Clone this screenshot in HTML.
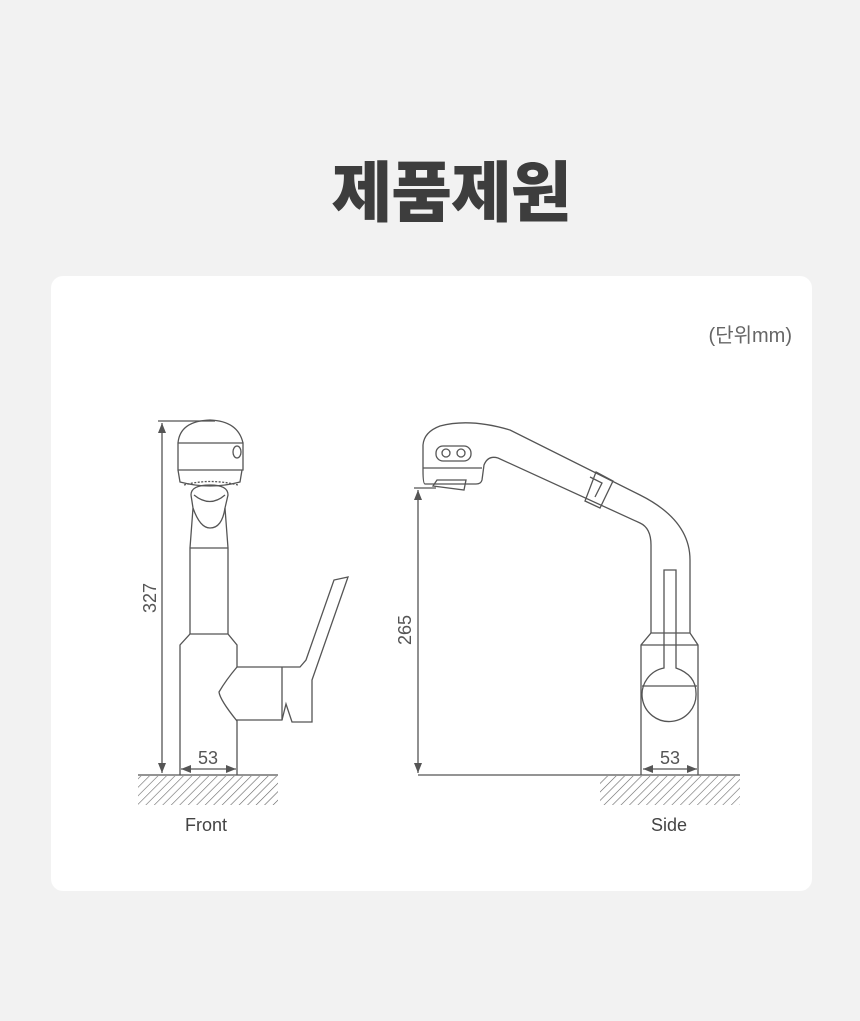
<!DOCTYPE html>
<html><head><meta charset="utf-8"><style>
html,body{margin:0;padding:0;background:#f2f2f2;}
body{width:860px;height:1021px;position:relative;overflow:hidden;font-family:"Liberation Sans","Noto Sans CJK KR",sans-serif;}
.t{position:absolute;left:21px;width:860px;top:140px;text-align:center;font-size:66px;font-weight:900;color:#3d3d3d;letter-spacing:-1px;font-family:"Noto Sans CJK KR",sans-serif;}
.card{position:absolute;left:51px;top:276px;width:761px;height:615px;background:#fff;border-radius:12px;}
</style></head><body>
<div class="t">제품제원</div>
<div class="card"></div>
<svg width="860" height="1021" style="position:absolute;left:0;top:0" xmlns="http://www.w3.org/2000/svg">
<defs>
<pattern id="h" width="6" height="6" patternUnits="userSpaceOnUse" patternTransform="rotate(45)"><line x1="0" y1="0" x2="0" y2="6" stroke="#666" stroke-width="1.2"/></pattern>
<marker id="a" markerWidth="10" markerHeight="8" refX="10" refY="4" orient="auto-start-reverse" markerUnits="userSpaceOnUse"><path d="M0,0 L10,4 L0,8 z" fill="#555"/></marker>
</defs>
<text x="792" y="342" text-anchor="end" font-size="20" fill="#666" font-family="Liberation Sans,Noto Sans CJK KR,sans-serif">(단위mm)</text>
<g fill="none" stroke="#555" stroke-width="1.3">
<!-- Front -->
<rect x="138" y="776" width="140" height="29" fill="url(#h)" stroke="none"/>
<line x1="138" y1="775" x2="278" y2="775"/>
<line x1="158" y1="421" x2="215" y2="421"/>
<line x1="162" y1="423" x2="162" y2="773" marker-start="url(#a)" marker-end="url(#a)"/>
<line x1="181" y1="769" x2="236" y2="769" marker-start="url(#a)" marker-end="url(#a)"/>
<path d="M180,775 V645 L190,634 H228 L237,645 V667 H282 L300,667 L306,660 L334,580 L348,577 L312,680 V722 H292 L286,704 L282,720 H237 V775"/>
<path d="M282,667 V720 M237,667 Q226,680 219,692 Q220,700 237,721"/>
<path d="M190,634 V548 H228 V634 M190,548 L193,508 M228,548 L225,508"/>
<path d="M193,508 Q200,528 210,528 Q222,528 225,508 M191,495 Q191,485 210,485 Q228,485 228,495 L225,508 M191,495 L193,508 M194,495 Q210,508 225,495"/>
<path d="M178,443 Q180,421 210,420 Q238,421 243,443 M178,443 H243 V470 H178 Z M178,470 L180,482 Q210,490 240,482 L242,470"/>
<ellipse cx="237" cy="452" rx="4" ry="6"/>
<path d="M184,485 Q210,478 238,485" stroke-dasharray="2,1.5"/>
<g font-family="Liberation Sans,sans-serif" font-weight="300" fill="#555" stroke="none">
<text x="208" y="764" text-anchor="middle" font-size="18">53</text>
<text x="156" y="598" text-anchor="middle" font-size="18" transform="rotate(-90 156 598)">327</text>
<text x="206" y="831" text-anchor="middle" font-size="18" fill="#444">Front</text>
</g>
<!-- Side -->
<rect x="600" y="776" width="140" height="29" fill="url(#h)" stroke="none"/>
<line x1="418" y1="775" x2="740" y2="775"/>
<line x1="414" y1="488" x2="436" y2="488"/>
<line x1="418" y1="490" x2="418" y2="773" marker-start="url(#a)" marker-end="url(#a)"/>
<line x1="643" y1="769" x2="697" y2="769" marker-start="url(#a)" marker-end="url(#a)"/>
<path d="M641,775 V645 L651,633 H690 L698,645 V775 M641,645 H698"/>
<path d="M651,633 V545 Q651,528 640,523 L498,458 Q488,455 484,465 L482,480 Q481,484 476,484 H425 Q423,484 423,470 V445 Q424,432 440,426 Q470,418 510,430 L640,495 Q690,520 690,560 V633"/>
<path d="M423,468 H482"/>
<path d="M433,486 L437,480 H466 L464,490 Z"/>
<rect x="436" y="446" width="35" height="15" rx="7"/>
<circle cx="446" cy="453" r="4"/><circle cx="461" cy="453" r="4"/>
<path d="M596,472 L613,481 L600,508 L585,501 Z M590,477 L602,483 L595,497"/>
<path d="M664,570 H676 V668 Q696,675 696,693 A27,27 0 1 1 664,668 Z"/>
<line x1="642" y1="686" x2="697" y2="686"/>
<g font-family="Liberation Sans,sans-serif" fill="#555" stroke="none">
<text x="670" y="764" text-anchor="middle" font-size="18">53</text>
<text x="411" y="630" text-anchor="middle" font-size="18" transform="rotate(-90 411 630)">265</text>
<text x="669" y="831" text-anchor="middle" font-size="18" fill="#444">Side</text>
</g>
</g>
</svg>
</body></html>
